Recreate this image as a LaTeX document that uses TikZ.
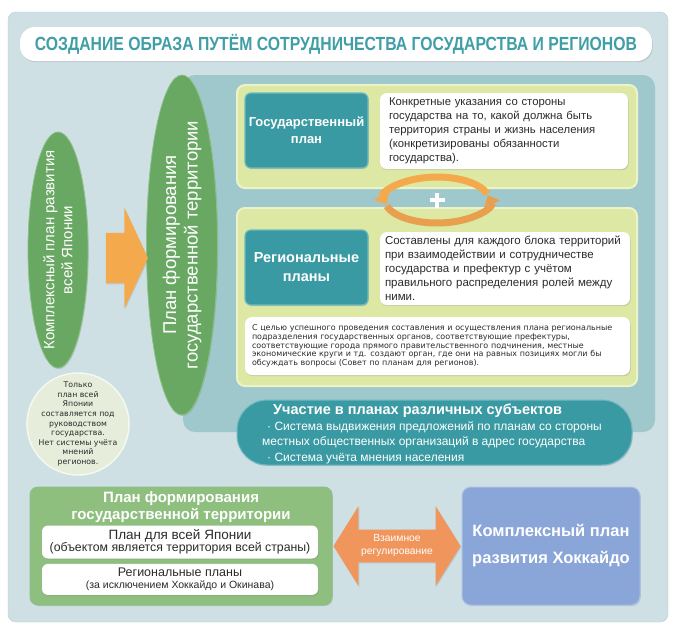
\documentclass[tikz,border=0pt]{standalone}
\usepackage{graphicx}
\usepackage{fontspec}
\setmainfont{Liberation Sans}
\newfontfamily\widefont{DejaVu Sans}
\usetikzlibrary{positioning,calc,shapes.geometric,shapes.arrows,arrows.meta,shadows}

\definecolor{panel}{HTML}{CFE0E4}
\definecolor{panelline}{HTML}{B5CDD3}
\definecolor{innerpanel}{HTML}{9FC8CC}
\definecolor{tealbox}{HTML}{3A9AA3}
\definecolor{tealline}{HTML}{72B9BF}
\definecolor{yellowbox}{HTML}{DCE8A4}
\definecolor{yellowline}{HTML}{EDF3C8}
\definecolor{leaf}{HTML}{68A862}
\definecolor{leafline}{HTML}{8CC086}
\definecolor{leafbox}{HTML}{8EBF7E}
\definecolor{orangeA}{HTML}{F4AA4C}
\definecolor{orangeC}{HTML}{E9A04E}
\definecolor{orangeB}{HTML}{F0955C}
\definecolor{hokkaidoblue}{HTML}{8AA5D8}
\definecolor{cream}{HTML}{E6EDDB}
\definecolor{titletext}{HTML}{3F9EA6}
\definecolor{darktext}{HTML}{2B2B2B}

\newcommand\fsz[2]{\fontsize{#1}{#2}\selectfont}
\newcommand\jline[1]{\makebox[371pt][s]{#1}}

\begin{document}
\begin{tikzpicture}[x=1pt, y=-1pt, line join=round, line cap=round,
  every node/.style={inner sep=0pt},
  softshadow/.style={drop shadow={opacity=.25, shadow xshift=.8pt, shadow yshift=-1.2pt}},
  planbox/.style={softshadow, draw=tealline, line width=1.2pt, fill=tealbox, rounded corners=6pt,
    text=white, align=center, minimum width=123pt, minimum height=75pt},
  notebox/.style={softshadow, fill=white, rounded corners=7pt, align=left, inner xsep=9pt, text=darktext},
  oval/.style={ellipse, softshadow, fill=leaf, draw=leafline, line width=.8pt, rotate=90},
  ovaltext/.style={rotate=90, text=white, align=center},
  zone/.style={fill=yellowbox, draw=yellowline, line width=2pt, rounded corners=8pt},
  cyclearrow/.style={line width=7pt, line cap=butt, -{Triangle[width=17pt,length=10pt]}},
  ]
  % background
  \useasboundingbox (0,0) rectangle (680,638);
  \fill[white] (0,0) rectangle (680,638);
  \draw[fill=panel, draw=panelline, rounded corners=8pt] (8,12) rectangle (668,622);
  \node[softshadow, fill=white, rounded corners=15pt, minimum width=632pt, minimum height=34pt,
    text=titletext, font=\fsz{19}{22}\bfseries] (title) at (336,44)
    {\scalebox{.83}[1]{СОЗДАНИЕ ОБРАЗА ПУТЁМ СОТРУДНИЧЕСТВА ГОСУДАРСТВА И РЕГИОНОВ}};

  % upper part
  \fill[innerpanel, rounded corners=12pt] (183,75) rectangle (655,432);
  \draw[zone] (237,85) rectangle (637,188);
  \draw[zone] (237,208) rectangle (637,386);

  \node[planbox, font=\fsz{13}{17}\bfseries] (gosplan) at (306.5,130.5) {Государственный\\план};
  \node[notebox, text width=230pt, minimum height=76pt, font=\fsz{11.3}{14}] (gosnote) at (504,131)
    {Конкретные указания со стороны\\государства на то, какой должна быть\\территория страны и жизнь населения\\(конкретизированы обязанности\\государства).};

  \node[planbox, font=\fsz{14.5}{19}\bfseries] (regplan) at (306.5,267.5) {Региональные\\планы};
  \node[notebox, text width=240pt, inner xsep=5pt, minimum height=73pt, font=\fsz{11.5}{14}] (regnote) at (505,268.5)
    {Составлены для каждого блока территорий\\при взаимодействии и сотрудничестве\\государства и префектур с учётом\\правильного распределения ролей между\\ними.};
  \node[notebox, text width=371pt, inner xsep=7pt, minimum height=58pt, font=\widefont\fsz{8}{8.8}] (council) at (437.5,346)
    {\jline{С целью успешного проведения составления и осуществления плана региональные}\\
     \jline{подразделения государственных органов, соответствующие префектуры,}\\
     \jline{соответствующие города прямого правительственного подчинения, местные}\\
     \jline{экономические круги и тд. создают орган, где они на равных позициях могли бы}\\
     обсуждать вопросы (Совет по планам для регионов).};

  % exchange between the two plans
  \coordinate (swap) at (437,200);
  \draw[cyclearrow, draw=orangeA] ([shift={(-15:52 and 23)}]swap)
    arc[start angle=-15, end angle=-192, x radius=52, y radius=23];
  \draw[cyclearrow, draw=orangeC] ([shift={(165:52 and 23)}]swap)
    arc[start angle=165, end angle=-12, x radius=52, y radius=23];
  \draw[white, line width=4pt, line cap=butt] ([xshift=-7.5pt]swap) -- ([xshift=7.5pt]swap)
    ([yshift=-7.5pt]swap) -- ([yshift=7.5pt]swap);

  \node[softshadow, fill=tealbox, draw=tealline, line width=1pt, rounded corners=30pt,
    minimum width=395pt, minimum height=65pt] (uchastie) at (434.5,432.5) {};
  \node[anchor=north west, align=left, text=white, font=\fsz{12}{15.5}] (uchtext) at (262,404)
    {{\fsz{14.5}{15.5}\bfseries\hspace*{11pt}Участие в планах различных субъектов}\\
     \hspace*{5pt}· Система выдвижения предложений по планам со стороны\\
     местных общественных организаций в адрес государства\\
     \hspace*{5pt}· Система учёта мнения населения};

  % left column
  \node[oval, minimum width=236pt, minimum height=60pt] (kompl) at (58,250) {};
  \node[ovaltext, font=\fsz{15}{18}] at (kompl.center) {Комплексный план развития\\всей Японии};
  \node[oval, minimum width=340pt, minimum height=71pt] (planfor) at (182,245) {};
  \node[ovaltext, font=\fsz{18.5}{21.5}] at (planfor.center) {План формирования\\государственной территории};
  \node[single arrow, fill=orangeA, minimum height=42pt, minimum width=100pt, inner ysep=25pt,
    single arrow head extend=25pt, single arrow tip angle=130, softshadow] (push) at (121,258) {};

  \node[circle, fill=cream, draw=white!60!cream, line width=1.5pt, minimum size=102pt] (only) at (78,424) {};
  \node[align=center, text=darktext, font=\widefont\fsz{7.8}{9.6}] at (only.center)
    {Только\\план всей\\Японии\\составляется под\\руководством\\государства.\\Нет системы учёта\\мнений\\регионов.};

  % lower part
  \node[softshadow, fill=leafbox, draw=leafline, line width=1pt, rounded corners=8pt,
    minimum width=302pt, minimum height=118pt] (planbottom) at (181,546) {};
  \node[text=white, align=center, font=\fsz{15}{16.5}\bfseries] (plantitle) at (181,507)
    {План формирования\\государственной территории};
  \node[softshadow, fill=white, rounded corners=6pt, minimum width=276pt, minimum height=33pt,
    align=center, text=darktext] (alljapan) at (180,542)
    {{\fsz{13.5}{15}План для всей Японии}\\{\fsz{12.3}{14}(объектом является территория всей страны)}};
  \node[softshadow, fill=white, rounded corners=6pt, minimum width=276pt, minimum height=31pt,
    align=center, text=darktext, below=5pt of alljapan] (regions)
    {{\fsz{12.5}{14}Региональные планы}\\{\fsz{10.5}{13}(за исключением Хоккайдо и Окинава)}};

  \node[softshadow, fill=hokkaidoblue, draw=hokkaidoblue!70!white, line width=1pt, rounded corners=9pt,
    minimum width=178pt, minimum height=118pt, text=white, align=center,
    font=\fsz{16.5}{27}\bfseries] (hokkaido) at (551,546) {Комплексный план\\развития Хоккайдо};

  \node[double arrow, fill=orangeB, minimum height=127pt, minimum width=80pt,
    double arrow head extend=16.5pt, double arrow tip angle=116, softshadow,
    text=white, align=center, font=\fsz{10.3}{13}]
    (mutual) at ($(planbottom.east)!.5!(hokkaido.west)$) {Взаимное\\регулирование};
\end{tikzpicture}
\end{document}
